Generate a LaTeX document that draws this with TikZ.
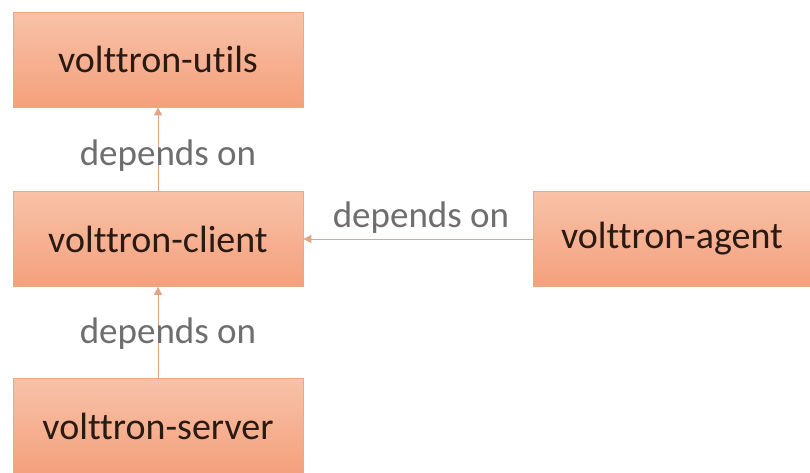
\documentclass[tikz,border=0pt]{standalone}
\usepackage{fontspec}
\setmainfont{Carlito}[Ligatures={NoCommon,NoRequired,NoContextual}]
\usetikzlibrary{arrows.meta}
\definecolor{boxtop}{HTML}{F8C2A8}
\definecolor{boxbot}{HTML}{F4A07C}
\definecolor{boxline}{HTML}{F0A684}
\definecolor{boxtext}{HTML}{2A1A14}
\definecolor{lbl}{HTML}{6E6E6E}
\definecolor{conn}{HTML}{E4A384}
\begin{document}
\begin{tikzpicture}[x=1pt,y=-1pt,
  pkg/.style={draw=boxline,line width=0.8pt,top color=boxtop,bottom color=boxbot,
    minimum width=290pt,minimum height=95pt,inner sep=0pt,text=boxtext,
    font=\fontsize{38}{42}\selectfont},
  dep/.style={draw=conn,line width=1pt,-{Triangle[length=8pt,width=8pt]}},
  deplbl/.style={text=lbl,font=\fontsize{37}{42}\selectfont,inner sep=0pt}]
\useasboundingbox (0,0) rectangle (810,472);
\node[pkg] (utils) at (158,59.5) {volttron-utils};
\node[pkg] (client) at (158,239) {volttron-client};
\node[pkg,minimum height=96pt] (server) at (158,426) {volttron-server};
\node[pkg,minimum width=278pt] (agent) at (672,239) {volttron-agent};
\draw[dep] (client.north) -- (utils.south);
\draw[dep] (server.north) -- (client.south);
\draw[dep] (agent.west) -- (client.east);
\node[deplbl] (l1) at (168,156) {depends on};
\node[deplbl] (l2) at (168,334) {depends on};
\node[deplbl] (l3) at (421,218) {depends on};
\end{tikzpicture}
\end{document}
